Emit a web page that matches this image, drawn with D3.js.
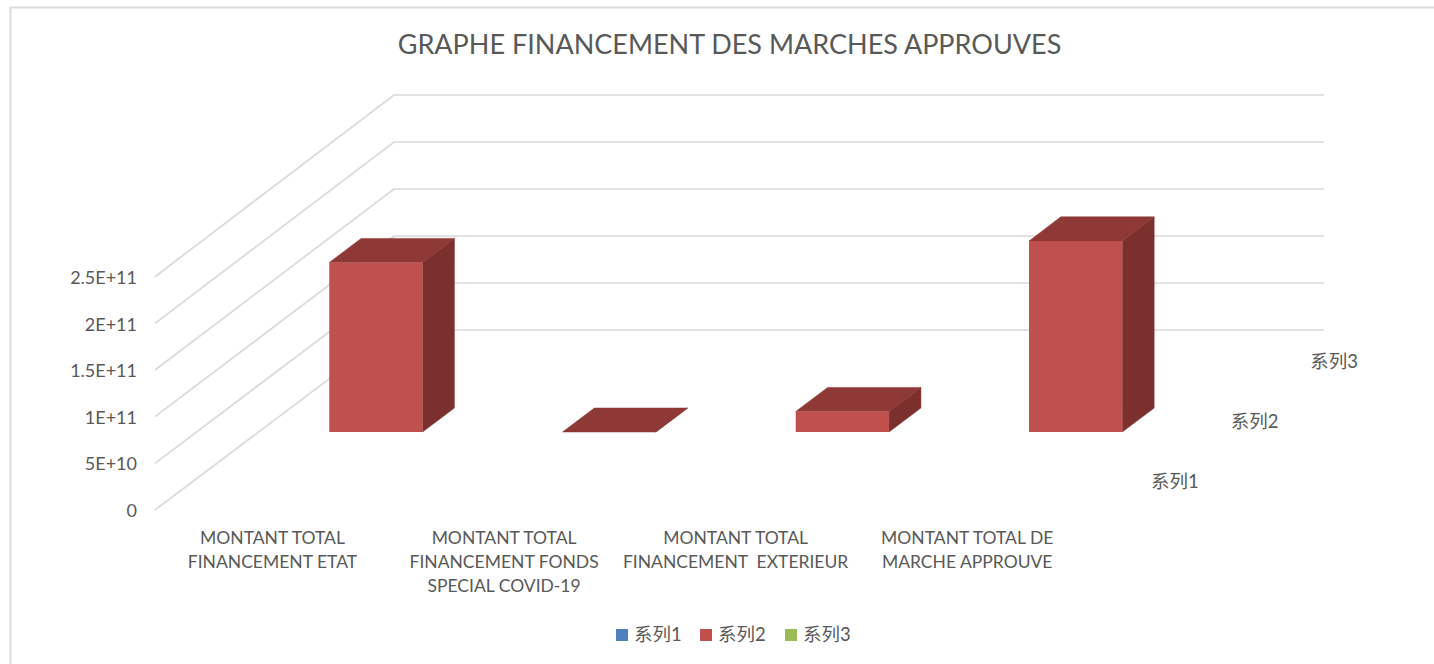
<!DOCTYPE html>
<html><head><meta charset="utf-8">
<script src="https://cdn.jsdelivr.net/npm/d3@7/dist/d3.min.js"></script>
<style>
html,body{margin:0;padding:0;background:#fff;}
svg{display:block;}
text{font-family:Lato,"Noto Sans CJK SC",sans-serif;fill:#595959;}
</style></head><body>
<svg id="chart" width="1434" height="664"></svg>
<script>
const title = "GRAPHE FINANCEMENT DES MARCHES APPROUVES";
const categories = [
  ["MONTANT TOTAL","FINANCEMENT ETAT"],
  ["MONTANT TOTAL","FINANCEMENT FONDS","SPECIAL COVID-19"],
  ["MONTANT TOTAL","FINANCEMENT  EXTERIEUR"],
  ["MONTANT TOTAL DE","MARCHE APPROUVE"]
];
const seriesNames = ["系列1","系列2","系列3"];
const seriesColors = ["#4f81bd","#c0504d","#9bbb59"];
const series1 = [null,null,null,null];
const series2 = [1.81e11,0,2.2e10,2.04e11];
const series3 = [null,null,null,null];
const yTicks = [0,5e10,1e11,1.5e11,2e11,2.5e11];
const seriesValues = [series1,series2,series3];

const svg = d3.select("#chart");
const idx = d3.range(categories.length);

// 3D frame scales
const x = d3.scaleBand().domain(idx).range([155.7,1088.7]).paddingInner(0.6).paddingOuter(0.3);
const xLabel = d3.scaleBand().domain(idx).range([156.7,1083]);
const y = d3.scaleLinear().domain([0,2.5e11]).range([510,276.7]);
const yBack = d3.scaleLinear().domain([0,2.5e11]).range([330,95]);
const depth = d3.scaleBand().domain(d3.range(3)).range([0,1]).paddingInner(0.6).paddingOuter(0.3);
const frameLeft = 155, frameRight = 1085, depthDX = 239;
const proj = (px,val,t)=>[px+depthDX*t, y(val)+(yBack(val)-y(val))*t];
const poly = pts => "M"+pts.map(p=>p.join(",")).join("L")+"Z";
const fmt = v => v===0 ? "0" : v.toExponential().replace("e+","E+");

// chart frame
svg.append("path").attr("d","M10.5,664V7.5H1434").attr("fill","none").attr("stroke","#dcdcdc").attr("stroke-width",2);

// title
svg.append("text").attr("x",729.5).attr("y",54).attr("text-anchor","middle").attr("font-size",27).text(title);

// gridlines
const grid = svg.append("g").attr("fill","none").attr("stroke","#d9d9d9").attr("stroke-width",1.7);
yTicks.forEach(v=>{
  const a=proj(frameLeft,v,0), b=proj(frameLeft,v,1), c=proj(frameRight,v,1);
  grid.append("path").attr("d",`M${a}L${b}L${c}`);
});

// y axis
const axis = svg.append("g").attr("transform","translate(137,0.7)")
  .call(d3.axisLeft(y).tickValues(yTicks).tickFormat(fmt).tickSize(0).tickPadding(0));
axis.select(".domain").remove();
axis.selectAll("text").attr("font-size",18).attr("dy","0.33em")
  .style("font-family",'Lato,"Noto Sans CJK SC",sans-serif').attr("fill","#595959");

// bars, back to front
d3.range(2,-1,-1).forEach(s=>{
  const g = svg.append("g");
  seriesValues[s].forEach((v,i)=>{
    if(v===null) return;
    const x0=x(i), x1=x0+x.bandwidth(), t0=depth(s), t1=t0+depth.bandwidth();
    const c=seriesColors[s];
    g.append("path").attr("d",poly([proj(x1,0,t0),proj(x1,0,t1),proj(x1,v,t1),proj(x1,v,t0)]))
      .attr("fill","#7c302e").attr("stroke","#7c302e").attr("stroke-width",0.5);
    g.append("path").attr("d",poly([proj(x0,v,t0),proj(x1,v,t0),proj(x1,v,t1),proj(x0,v,t1)]))
      .attr("fill","#8f3937").attr("stroke","#8f3937").attr("stroke-width",0.5);
    g.append("path").attr("d",poly([proj(x0,0,t0),proj(x1,0,t0),proj(x1,v,t0),proj(x0,v,t0)]))
      .attr("fill",c);
  });
});

// category labels
const catG = svg.append("g").attr("text-anchor","middle").attr("font-size",17.5);
categories.forEach((lines,i)=>{
  const cx = xLabel(i)+xLabel.bandwidth()/2;
  const t = catG.append("text").style("white-space","pre");
  lines.forEach((l,j)=>t.append("tspan").attr("x",cx).attr("y",543.5+24*j).text(l));
});

// series (depth) axis labels
const sG = svg.append("g").attr("font-size",18.5).attr("text-anchor","middle");
seriesNames.forEach((n,s)=>{
  const p = proj(frameRight,0,depth(s)+depth.bandwidth()/2);
  sG.append("text").attr("x",p[0]+50).attr("y",p[1]+7.5).text(n);
});

// legend
const legendX = [616,700,785];
const lg = svg.append("g");
seriesNames.forEach((n,s)=>{
  lg.append("rect").attr("x",legendX[s]).attr("y",629).attr("width",12).attr("height",12).attr("fill",seriesColors[s]);
  lg.append("text").attr("x",legendX[s]+18).attr("y",641).attr("font-size",18.5).text(n);
});
</script>
</body></html>
